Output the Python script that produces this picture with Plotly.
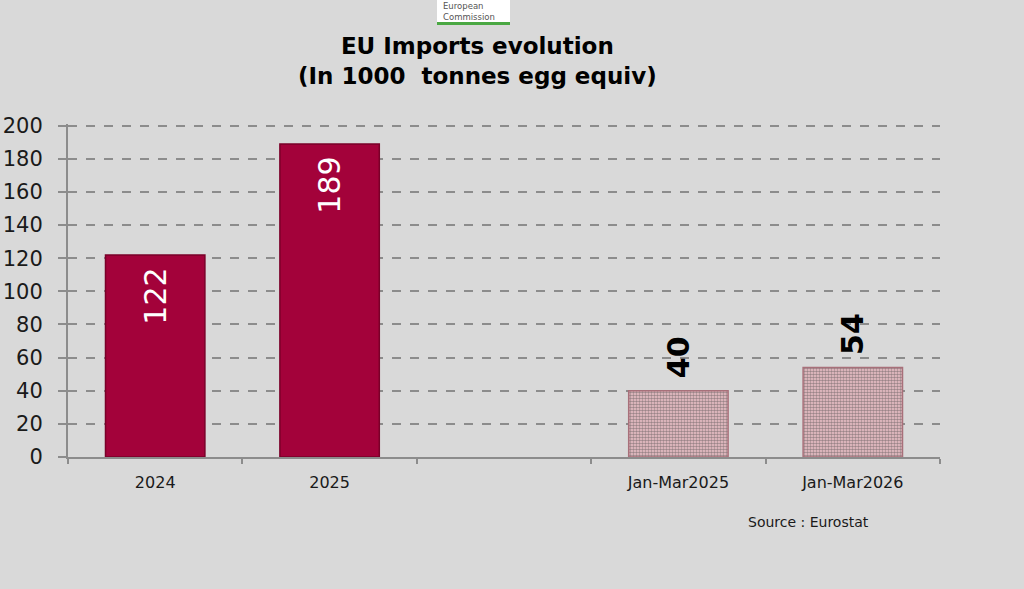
import plotly.graph_objects as go

# Data
categories = ["2024", "2025", " ", "Jan-Mar2025", "Jan-Mar2026"]
imports = [122, 189, None, 40, 54]
value_labels = ["122\u00a0", "189\u00a0", "", "\u00a0<b>40</b>", "\u00a0<b>54</b>"]

W, H = 1024, 589
L, R, T, B = 68, 84, 124, 132
PW, PH = W - L - R, H - T - B


def px_x(px):
    return (px - L) / PW


def px_y(py):
    return (H - B - py) / PH


fig = go.Figure()

fig.add_trace(
    go.Bar(
        x=categories,
        y=imports,
        text=value_labels,
        textposition=["inside", "inside", "inside", "outside", "outside"],
        insidetextanchor="end",
        textangle=-90,
        textfont=dict(
            family="DejaVu Sans",
            size=30,
            color=["white", "white", "white", "black", "black"],
        ),
        width=0.57,
        cliponaxis=False,
        marker=dict(
            color=["#a3023a", "#a3023a", "#a3023a", "#f2c6cd", "#f2c6cd"],
            line=dict(color=["#7a0029", "#7a0029", "#7a0029", "#a8707a", "#a8707a"], width=1.5),
            pattern=dict(
                shape=["", "", "", ".", "."],
                fgcolor="#b5677a",
                size=3,
                solidity=0.55,
                fillmode="overlay",
            ),
        ),
        hoverinfo="x+y",
        showlegend=False,
    )
)

fig.update_layout(
    width=W,
    height=H,
    margin=dict(l=L, r=R, t=T, b=B),
    paper_bgcolor="#d9d9d9",
    plot_bgcolor="#d9d9d9",
    font=dict(family="DejaVu Sans", color="#1a1a1a"),
    bargap=0.43,
    xaxis=dict(
        type="category",
        automargin=False,
        showline=True,
        linecolor="#8c8c8c",
        linewidth=2,
        ticks="outside",
        tickson="boundaries",
        ticklen=5,
        tickcolor="#8c8c8c",
        tickwidth=2,
        ticklabelstandoff=10,
        tickfont=dict(size=16, color="#1a1a1a"),
        showgrid=False,
    ),
    yaxis=dict(
        range=[0, 201],
        automargin=False,
        tickvals=[0, 20, 40, 60, 80, 100, 120, 140, 160, 180, 200],
        showline=True,
        linecolor="#8c8c8c",
        linewidth=2,
        ticks="outside",
        ticklen=8,
        tickcolor="#8c8c8c",
        tickwidth=2,
        ticklabelstandoff=11,
        tickfont=dict(size=21, color="#1a1a1a"),
        showgrid=True,
        gridcolor="#8c8c8c",
        gridwidth=2,
        griddash="dash",
        zeroline=False,
    ),
)

# Title
fig.add_annotation(
    x=px_x(477), y=px_y(61), xref="paper", yref="paper",
    xanchor="center", yanchor="middle",
    text="<b>EU Imports evolution<br>(In 1000  tonnes egg equiv)</b>",
    showarrow=False, font=dict(size=23, color="black"), align="center",
)

# Source note
fig.add_annotation(
    x=px_x(808), y=px_y(522), xref="paper", yref="paper",
    xanchor="center", yanchor="middle",
    text="Source : Eurostat", showarrow=False,
    font=dict(size=14, color="#1a1a1a"),
)

# European Commission logo block
fig.add_shape(
    type="rect", xref="paper", yref="paper",
    x0=px_x(437), x1=px_x(510), y0=px_y(22), y1=px_y(-5),
    fillcolor="white", line=dict(width=0),
)
fig.add_shape(
    type="rect", xref="paper", yref="paper",
    x0=px_x(437), x1=px_x(510), y0=px_y(25), y1=px_y(22),
    fillcolor="#4aa843", line=dict(width=0),
)
fig.add_annotation(
    x=px_x(441), y=px_y(11), xref="paper", yref="paper",
    xanchor="left", yanchor="middle",
    text="European<br>Commission", showarrow=False,
    align="left", font=dict(size=8.5, color="#555555"),
)

fig.write_html(
    "out.html",
    config={"displayModeBar": False},
    post_script="document.body.style.margin='0';document.body.style.overflow='hidden';",
)
